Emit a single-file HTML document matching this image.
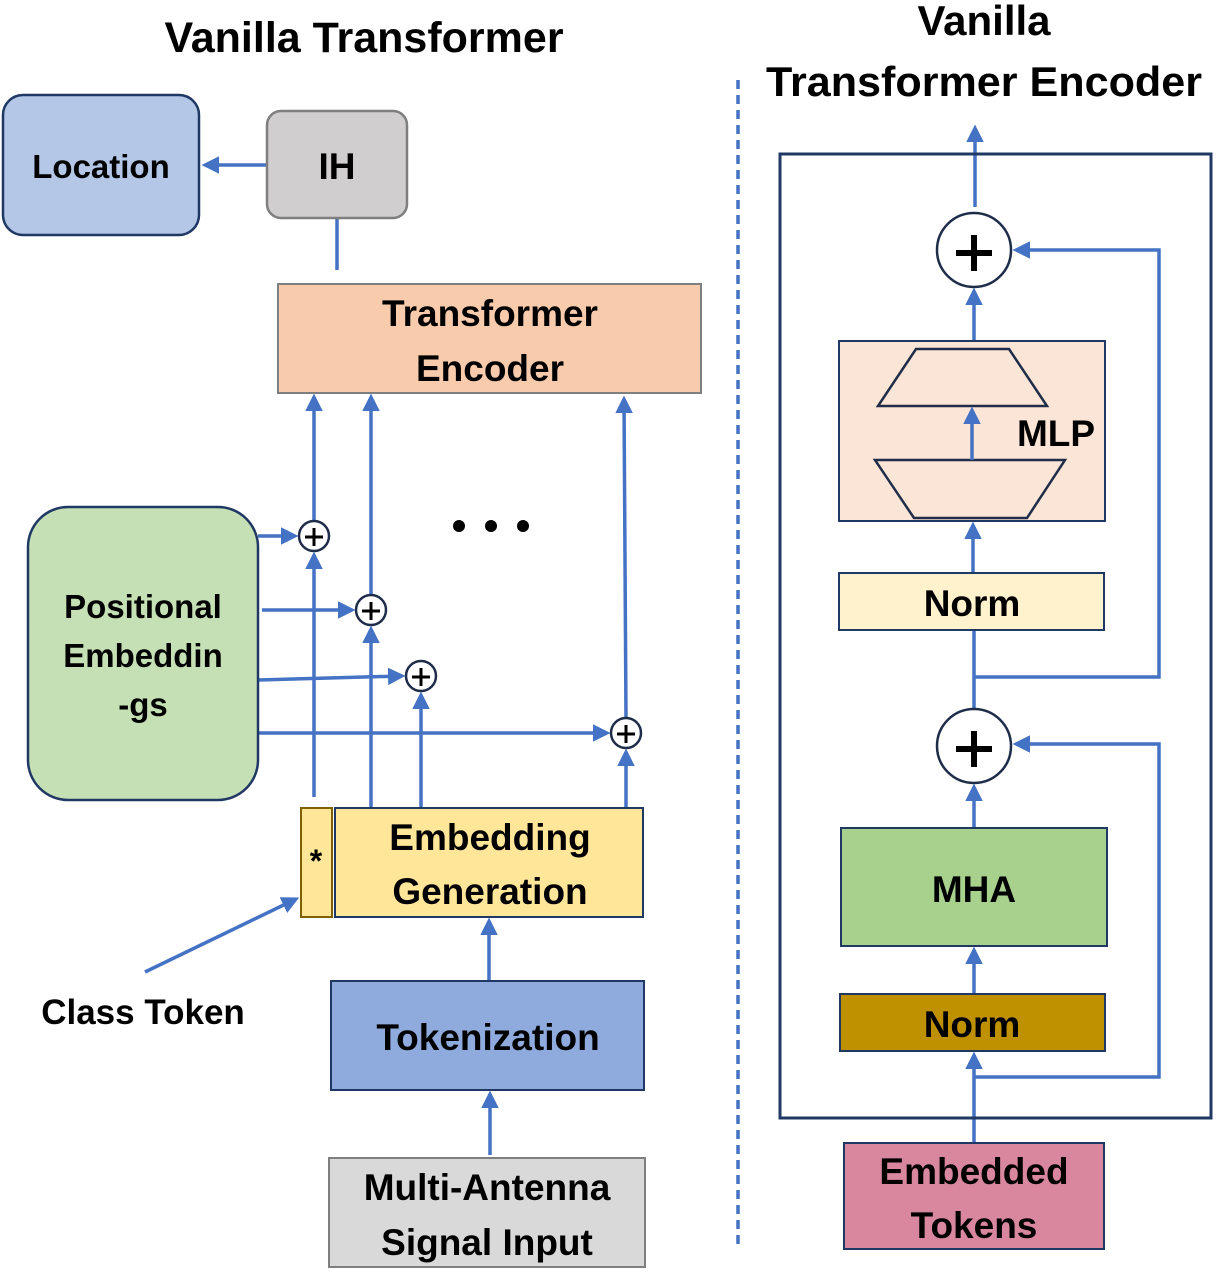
<!DOCTYPE html>
<html><head><meta charset="utf-8"><style>body{margin:0;background:#fff}svg{display:block}text{font-family:"Liberation Sans",sans-serif;font-weight:bold;fill:#000}</style></head><body>
<svg width="1221" height="1276" viewBox="0 0 1221 1276" xmlns="http://www.w3.org/2000/svg">
<defs><marker id="a" markerWidth="5" markerHeight="5" refX="4" refY="2.5" orient="auto" markerUnits="strokeWidth"><path d="M0,0 L5,2.5 L0,5 z" fill="#4472c4"/></marker></defs>
<text x="364" y="52" font-size="43" text-anchor="middle">Vanilla Transformer</text>
<text x="984" y="35" font-size="42" text-anchor="middle">Vanilla</text>
<text x="984" y="96" font-size="42" text-anchor="middle" textLength="436" lengthAdjust="spacingAndGlyphs">Transformer Encoder</text>
<line x1="738" y1="80" x2="738" y2="1245" stroke="#4472c4" stroke-width="3.5" stroke-dasharray="9,6"/>
<g stroke="#4472c4" stroke-width="3.5" fill="none">
<line x1="267" y1="165" x2="205" y2="165" marker-end="url(#a)"/>
<line x1="337" y1="218" x2="337" y2="270"/>
<line x1="258" y1="536" x2="295" y2="536" marker-end="url(#a)"/>
<line x1="262" y1="610" x2="352" y2="610" marker-end="url(#a)"/>
<line x1="258" y1="680" x2="402" y2="676" marker-end="url(#a)"/>
<line x1="258" y1="733" x2="607" y2="733" marker-end="url(#a)"/>
<line x1="314" y1="797" x2="314" y2="555" marker-end="url(#a)"/>
<line x1="314" y1="521" x2="314" y2="397" marker-end="url(#a)"/>
<line x1="371" y1="808" x2="371" y2="629" marker-end="url(#a)"/>
<line x1="371" y1="595" x2="371" y2="397" marker-end="url(#a)"/>
<line x1="421" y1="808" x2="421" y2="695" marker-end="url(#a)"/>
<line x1="626" y1="808" x2="626" y2="752" marker-end="url(#a)"/>
<line x1="626" y1="718" x2="624" y2="399" marker-end="url(#a)"/>
<line x1="145" y1="972" x2="296" y2="899" marker-end="url(#a)"/>
<line x1="489" y1="981" x2="489" y2="921" marker-end="url(#a)"/>
<line x1="490" y1="1155" x2="490" y2="1094" marker-end="url(#a)"/>
<line x1="975" y1="207" x2="975" y2="128" marker-end="url(#a)"/>
<line x1="974" y1="341" x2="974" y2="291" marker-end="url(#a)"/>
<line x1="972" y1="460" x2="972" y2="410" marker-end="url(#a)"/>
<line x1="973" y1="573" x2="973" y2="525" marker-end="url(#a)"/>
<line x1="974" y1="709" x2="974" y2="630"/>
<polyline points="974,677 1159,677 1159,250 1016,250" marker-end="url(#a)"/>
<line x1="974" y1="828" x2="974" y2="787" marker-end="url(#a)"/>
<line x1="974" y1="994" x2="974" y2="950" marker-end="url(#a)"/>
<line x1="974" y1="1143" x2="974" y2="1055" marker-end="url(#a)"/>
<polyline points="974,1077 1159,1077 1159,744 1016,744" marker-end="url(#a)"/>
</g>
<rect x="3" y="95" width="196" height="140" rx="20" fill="#b4c7e7" stroke="#203864" stroke-width="2.5"/>
<text x="101" y="178" font-size="33" text-anchor="middle">Location</text>
<rect x="267" y="111" width="140" height="107" rx="14" fill="#d0cece" stroke="#7f7f7f" stroke-width="2.5"/>
<text x="337" y="179" font-size="37" text-anchor="middle">IH</text>
<rect x="278" y="284" width="423" height="109" fill="#f8cbad" stroke="#7f7f7f" stroke-width="2"/>
<text x="490" y="326" font-size="37" text-anchor="middle">Transformer</text>
<text x="490" y="381" font-size="37" text-anchor="middle">Encoder</text>
<rect x="28" y="507" width="230" height="293" rx="40" fill="#c5e0b4" stroke="#203864" stroke-width="2.5"/>
<text x="143" y="618" font-size="33" text-anchor="middle">Positional</text>
<text x="143" y="667" font-size="33" text-anchor="middle">Embeddin</text>
<text x="143" y="716" font-size="33" text-anchor="middle">-gs</text>
<g fill="#fff" stroke="#1f2d4a" stroke-width="2.5">
<circle cx="314" cy="536" r="15"/><circle cx="371" cy="610" r="15"/><circle cx="421" cy="676" r="15"/><circle cx="626" cy="733" r="15"/>
<circle cx="974" cy="250" r="37"/><circle cx="974" cy="746" r="37"/>
</g>
<g stroke="#000" stroke-width="3">
<path d="M305,537h18M314,528v18"/><path d="M362,611h18M371,602v18"/><path d="M412,677h18M421,668v18"/><path d="M617,734h18M626,725v18"/>
<path d="M956,253h36M974,235v36" stroke-width="6"/><path d="M956,749h36M974,731v36" stroke-width="6"/>
</g>
<circle cx="459" cy="526" r="6"/><circle cx="491" cy="526" r="6"/><circle cx="523" cy="526" r="6"/>
<rect x="301" y="808" width="31" height="109" fill="#ffe699" stroke="#7f6000" stroke-width="2"/>
<text x="316" y="872" font-size="32" text-anchor="middle">*</text>
<rect x="335" y="808" width="308" height="109" fill="#ffe699" stroke="#203864" stroke-width="2"/>
<text x="490" y="850" font-size="37" text-anchor="middle">Embedding</text>
<text x="490" y="904" font-size="37" text-anchor="middle">Generation</text>
<text x="143" y="1024" font-size="35" text-anchor="middle">Class Token</text>
<rect x="331" y="981" width="313" height="109" fill="#8faadc" stroke="#203864" stroke-width="2"/>
<text x="488" y="1050" font-size="37" text-anchor="middle">Tokenization</text>
<rect x="329" y="1158" width="316" height="109" fill="#d9d9d9" stroke="#7f7f7f" stroke-width="2"/>
<text x="487" y="1200" font-size="37" text-anchor="middle">Multi-Antenna</text>
<text x="487" y="1255" font-size="37" text-anchor="middle">Signal Input</text>
<rect x="780" y="154" width="431" height="964" fill="none" stroke="#203864" stroke-width="3"/>
<rect x="839" y="341" width="266" height="180" fill="#fbe5d6" stroke="#203864" stroke-width="2"/>
<path d="M878,406 L1047,406 L1009,349 L916,349 Z" fill="none" stroke="#1f2d4a" stroke-width="2.5"/>
<path d="M875,460 L1065,460 L1027,518 L914,518 Z" fill="none" stroke="#1f2d4a" stroke-width="2.5"/>
<line x1="972" y1="460" x2="972" y2="410" stroke="#4472c4" stroke-width="3.5" marker-end="url(#a)"/>
<text x="1056" y="446" font-size="37" text-anchor="middle">MLP</text>
<rect x="839" y="573" width="265" height="57" fill="#fff2cc" stroke="#203864" stroke-width="2"/>
<text x="972" y="616" font-size="37" text-anchor="middle">Norm</text>
<rect x="841" y="828" width="266" height="118" fill="#a9d18e" stroke="#203864" stroke-width="2"/>
<text x="974" y="902" font-size="37" text-anchor="middle">MHA</text>
<rect x="840" y="994" width="265" height="57" fill="#bf9000" stroke="#203864" stroke-width="2"/>
<text x="972" y="1037" font-size="37" text-anchor="middle">Norm</text>
<rect x="844" y="1143" width="260" height="106" fill="#d9869f" stroke="#203864" stroke-width="2"/>
<text x="974" y="1184" font-size="37" text-anchor="middle">Embedded</text>
<text x="974" y="1238" font-size="37" text-anchor="middle">Tokens</text>
</svg>
</body></html>
